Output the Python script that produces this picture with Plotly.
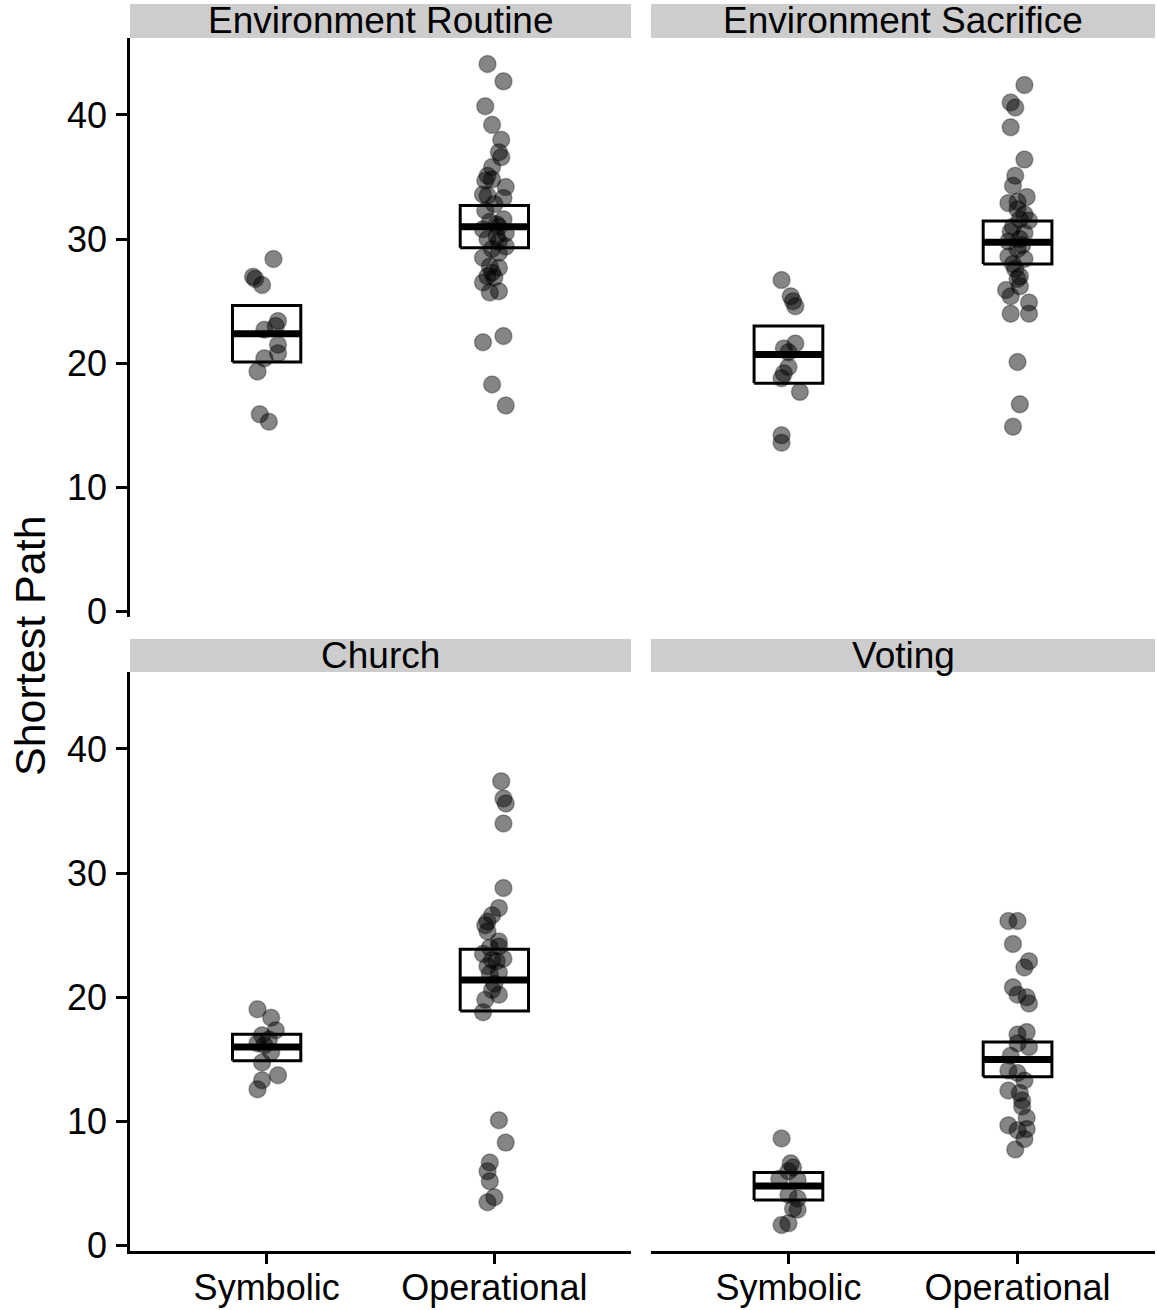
import plotly.graph_objects as go

# ---------------- data ----------------
categories = ["Symbolic", "Operational"]
panels = ["Environment Routine", "Environment Sacrifice", "Church", "Voting"]
y_ticks = [0, 10, 20, 30, 40]

# Environment Routine
er_sym = [28.4, 26.97, 26.8, 26.3, 23.4, 22.7, 23.0, 21.5, 20.8, 20.4, 19.35, 15.9, 15.3]
er_sym_jit = [0.03, -0.06, -0.05, -0.02, 0.05, -0.01, 0.04, 0.05, 0.05, -0.01, -0.04, -0.03, 0.01]
er_op = [44.1, 42.7, 40.7, 39.2, 38.0, 37.0, 36.6, 35.8, 35.1, 34.8, 34.7, 34.2, 33.6, 33.5,
         33.3, 32.8, 32.3, 31.6, 31.4, 31.2, 31.0, 30.8, 30.5, 30.2, 30.0, 29.8, 29.4, 29.2,
         28.9, 28.5, 27.8, 27.7, 27.3, 27.0, 26.9, 26.5, 25.8, 25.7, 22.2, 21.7, 18.3, 16.6]
er_op_jit = [-0.03, 0.04, -0.04, -0.01, 0.03, 0.02, 0.03, -0.01, -0.03, -0.01, -0.04, 0.05, -0.05, -0.03,
             0.04, 0.00, -0.04, 0.04, -0.02, 0.01, 0.02, -0.05, 0.05, 0.01, -0.03, 0.02, 0.05, -0.01,
             0.02, -0.05, -0.02, 0.02, -0.01, -0.03, 0.00, -0.05, 0.02, -0.02, 0.04, -0.05, -0.01, 0.05]

# Environment Sacrifice
es_sym = [26.7, 25.4, 25.0, 24.6, 21.6, 21.2, 20.9, 19.7, 19.2, 18.8, 17.7, 14.2, 13.6]
es_sym_jit = [-0.03, 0.01, 0.02, 0.03, 0.03, -0.02, 0.00, 0.00, -0.02, -0.03, 0.05, -0.03, -0.03]
es_op = [42.4, 41.0, 40.6, 39.0, 36.4, 35.1, 34.3, 33.4, 33.0, 32.9, 32.4, 32.0, 31.6, 31.5,
         31.0, 30.6, 30.5, 30.0, 29.8, 29.5, 29.2, 28.6, 28.4, 28.0, 27.6, 27.0, 26.8, 26.2,
         25.9, 25.4, 24.9, 24.0, 24.0, 20.1, 16.7, 14.9]
es_op_jit = [0.03, -0.03, -0.01, -0.03, 0.03, -0.01, -0.02, 0.04, 0.00, -0.04, 0.00, 0.03, 0.01, 0.05,
             -0.02, -0.03, 0.03, 0.01, -0.04, 0.02, 0.00, -0.04, 0.03, -0.02, -0.01, 0.01, 0.00, 0.01,
             -0.05, -0.03, 0.05, -0.03, 0.05, 0.00, 0.01, -0.02]

# Church
ch_sym = [19.04, 18.35, 17.35, 16.95, 16.6, 16.3, 16.15, 15.6, 14.75, 13.73, 13.33, 12.6]
ch_sym_jit = [-0.04, 0.02, 0.04, -0.02, 0.01, -0.04, -0.01, 0.02, -0.02, 0.05, -0.02, -0.04]
ch_op = [37.4, 36.0, 35.6, 34.0, 28.8, 27.2, 26.6, 26.1, 25.8, 25.3, 24.5, 24.1, 24.0, 23.5,
         23.1, 23.0, 22.9, 22.5, 22.0, 21.9, 21.1, 20.6, 20.2, 19.8, 18.8, 10.1, 8.3, 6.7,
         6.0, 5.2, 3.9, 3.5]
ch_op_jit = [0.03, 0.04, 0.05, 0.04, 0.04, 0.02, -0.01, -0.03, -0.04, -0.03, 0.02, 0.02, -0.02, -0.05,
             0.04, -0.01, 0.01, -0.03, 0.02, -0.02, 0.00, -0.01, 0.02, -0.04, -0.05, 0.02, 0.05, -0.02,
             -0.03, -0.02, 0.00, -0.03]

# Voting
vo_sym = [8.64, 6.63, 6.3, 6.0, 5.4, 5.3, 4.1, 3.8, 3.0, 2.9, 1.67, 1.8]
vo_sym_jit = [-0.03, 0.01, 0.02, 0.00, -0.04, 0.04, 0.00, 0.04, 0.02, 0.04, -0.03, 0.00]
vo_op = [26.15, 26.15, 24.3, 22.9, 22.4, 20.8, 20.2, 20.0, 19.5, 17.2, 17.0, 16.3, 16.0, 15.3,
         14.1, 13.9, 13.3, 12.5, 12.3, 11.7, 11.2, 10.3, 9.7, 9.3, 9.4, 8.6, 7.75]
vo_op_jit = [-0.04, 0.00, -0.02, 0.05, 0.03, -0.02, 0.00, 0.04, 0.05, 0.04, 0.00, 0.00, 0.05, -0.03,
             -0.04, 0.00, 0.03, -0.04, 0.01, 0.02, 0.02, 0.04, -0.04, 0.00, 0.04, 0.03, -0.01]

# crossbar summaries (mean and interval), per panel in order of `panels`
sym_mean = [22.37, 20.7, 16.0, 4.8]
sym_low = [20.1, 18.4, 14.9, 3.68]
sym_high = [24.65, 23.0, 17.03, 5.9]
op_mean = [31.0, 29.75, 21.4, 15.0]
op_low = [29.3, 28.0, 18.9, 13.6]
op_high = [32.7, 31.45, 23.87, 16.4]

# ---------------- figure ----------------
W, H = 1157, 1310
FONT = "Liberation Sans, Arial, sans-serif"
y_range = [-0.45, 46.2]
x_range = [0.4, 2.6]
box_half = 0.15


def fx(px):
    """page x pixel -> paper fraction"""
    return px / W


def fy(py):
    """page y pixel (from top) -> paper fraction"""
    return 1 - py / H


sym_vals = [er_sym, es_sym, ch_sym, vo_sym]
sym_jits = [er_sym_jit, es_sym_jit, ch_sym_jit, vo_sym_jit]
op_vals = [er_op, es_op, ch_op, vo_op]
op_jits = [er_op_jit, es_op_jit, ch_op_jit, vo_op_jit]

# panel pixel boxes (left, right) / (top, bottom) and strip boxes
px_cols = [(130, 631), (651, 1155)]
px_rows = [(37.9, 617.3), (671.9, 1251.3)]
strip_rows = [(4, 37.9), (639, 671.9)]

fig = go.Figure()

for i, name in enumerate(panels):
    xa = "x" if i == 0 else f"x{i + 1}"
    ya = "y" if i == 0 else f"y{i + 1}"
    means = [sym_mean[i], op_mean[i]]
    lows = [sym_low[i], op_low[i]]
    highs = [sym_high[i], op_high[i]]
    # crossbars
    for c, m, lo, hi in zip([1, 2], means, lows, highs):
        fig.add_trace(go.Scatter(
            x=[c - box_half, c + box_half, c + box_half, c - box_half, c - box_half],
            y=[lo, lo, hi, hi, lo], mode="lines", fill="toself", fillcolor="white",
            line=dict(color="black", width=3), xaxis=xa, yaxis=ya,
            showlegend=False, hoverinfo="skip"))
        fig.add_trace(go.Scatter(
            x=[c - box_half, c + box_half], y=[m, m], mode="lines",
            line=dict(color="black", width=7), xaxis=xa, yaxis=ya,
            showlegend=False, hoverinfo="skip"))
    # jittered points
    for c, vals, jit in ((1, sym_vals[i], sym_jits[i]), (2, op_vals[i], op_jits[i])):
        fig.add_trace(go.Scatter(
            x=[c + j for j in jit], y=vals, mode="markers",
            marker=dict(size=17, color="rgba(0,0,0,0.48)",
                        line=dict(color="rgba(0,0,0,0.3)", width=1.5)),
            xaxis=xa, yaxis=ya, showlegend=False))

layout = dict(
    template="none",
    width=W, height=H,
    margin=dict(l=0, r=0, t=0, b=0, autoexpand=False),
    paper_bgcolor="white", plot_bgcolor="white",
    font=dict(family=FONT, color="black", size=36),
    showlegend=False,
)

shapes = []
annotations = []
for i, name in enumerate(panels):
    row, col = divmod(i, 2)
    l, r = px_cols[col]
    t, b = px_rows[row]
    xkey = "xaxis" if i == 0 else f"xaxis{i + 1}"
    ykey = "yaxis" if i == 0 else f"yaxis{i + 1}"
    xa = "x" if i == 0 else f"x{i + 1}"
    ya = "y" if i == 0 else f"y{i + 1}"
    bottom_row = row == 1
    left_col = col == 0
    layout[xkey] = dict(
        domain=[fx(l), fx(r)], anchor=ya, range=x_range, automargin=False,
        tickvals=[1, 2], ticktext=categories,
        showticklabels=bottom_row, ticks="outside" if bottom_row else "",
        ticklen=10, tickwidth=2.5, tickcolor="black",
        showline=bottom_row, linecolor="black", linewidth=2.5,
        showgrid=False, zeroline=False,
        tickfont=dict(size=36, color="black", family=FONT),
        ticklabelstandoff=-7,
    )
    layout[ykey] = dict(
        domain=[fy(b), fy(t)], anchor=xa, range=y_range, automargin=False,
        tickvals=y_ticks, showticklabels=left_col,
        ticks="outside" if left_col else "",
        ticklen=11, tickwidth=2.5, tickcolor="black",
        showline=left_col, linecolor="black", linewidth=2.5,
        showgrid=False, zeroline=False,
        tickfont=dict(size=36, color="black", family=FONT),
        ticklabelstandoff=2,
    )
    st, sb = strip_rows[row]
    shapes.append(dict(type="rect", xref="paper", yref="paper",
                       x0=fx(l), x1=fx(r), y0=fy(sb), y1=fy(st),
                       fillcolor="#cdcdcd", line=dict(width=0), layer="below"))
    annotations.append(dict(text=name, xref="paper", yref="paper",
                            x=fx((l + r) / 2), y=fy((st + sb) / 2),
                            xanchor="center", yanchor="middle", showarrow=False,
                            font=dict(size=37, color="black", family=FONT)))

annotations.append(dict(text="Shortest Path", xref="paper", yref="paper",
                        x=fx(30), y=fy(646), xanchor="center", yanchor="middle",
                        textangle=-90, showarrow=False,
                        font=dict(size=43, color="black", family=FONT)))

layout["shapes"] = shapes
layout["annotations"] = annotations
fig.update_layout(**layout)

fig.write_html("out.html", config={"displayModeBar": False},
               post_script="document.body.style.margin='0px';"
                           "document.body.style.overflow='hidden';")
